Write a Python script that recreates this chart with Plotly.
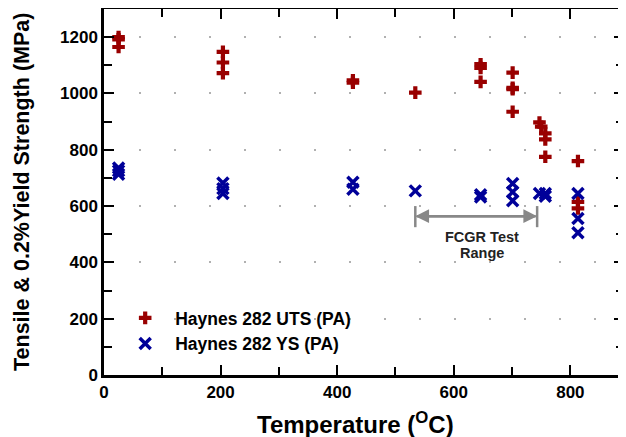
import plotly.graph_objects as go

# Haynes 282 UTS (PA)
uts_temp = [25, 25, 25, 204, 204, 204, 427, 427, 534, 646, 646, 646, 701, 701, 701, 701, 747, 750, 757, 757, 757, 813, 813, 813]
uts_val = [1200, 1192, 1165, 1148, 1110, 1072, 1047, 1038, 1003, 1104, 1091, 1041, 1074, 1020, 1015, 935, 897, 882, 858, 837, 775, 760, 615, 592]

# Haynes 282 YS (PA)
ys_temp = [25, 25, 25, 204, 204, 204, 427, 427, 534, 646, 646, 701, 701, 701, 747, 757, 757, 813, 813, 813]
ys_val = [735, 725, 713, 682, 662, 645, 685, 660, 654, 640, 632, 680, 650, 619, 645, 645, 635, 645, 556, 505]

x_ticks = [0, 200, 400, 600, 800]
y_ticks = [0, 200, 400, 600, 800, 1000, 1200]

fcgr_range = [534, 743]
fcgr_level = 564

FONT = "Liberation Sans"

fig = go.Figure()
fig.add_trace(go.Scatter(
    x=uts_temp, y=uts_val, mode="markers", name="Haynes 282 UTS (PA)",
    marker=dict(symbol="cross", size=10.5, color="#990000", line=dict(width=0)),
))
fig.add_trace(go.Scatter(
    x=ys_temp, y=ys_val, mode="markers", name="Haynes 282 YS (PA)",
    marker=dict(symbol="x-thin", size=11, color="#000099", line=dict(width=3.5, color="#000099")),
))

# FCGR test range arrow
fig.add_annotation(x=fcgr_range[0], y=fcgr_level, ax=fcgr_range[1], ay=fcgr_level,
                   xref="x", yref="y", axref="x", ayref="y", text="",
                   showarrow=True, arrowhead=2, arrowsize=1.1, arrowwidth=2.5, arrowcolor="#888888")
fig.add_annotation(x=fcgr_range[1], y=fcgr_level, ax=fcgr_range[0], ay=fcgr_level,
                   xref="x", yref="y", axref="x", ayref="y", text="",
                   showarrow=True, arrowhead=2, arrowsize=1.1, arrowwidth=2.5, arrowcolor="#888888")
for xv in fcgr_range:
    fig.add_shape(type="line", x0=xv, x1=xv, y0=525, y1=600, xref="x", yref="y",
                  line=dict(color="#888888", width=2.5))
fig.add_annotation(x=648, y=490, xref="x", yref="y",
                   text="<b>FCGR Test</b>", showarrow=False,
                   font=dict(family=FONT, size=14.5, color="#222222"))
fig.add_annotation(x=648, y=433, xref="x", yref="y",
                   text="<b>Range</b>", showarrow=False,
                   font=dict(family=FONT, size=14.5, color="#222222"))

# axis titles
fig.add_annotation(x=0.483, y=0, xref="paper", yref="paper", yshift=-48,
                   xanchor="center", yanchor="middle", showarrow=False,
                   text="<b>Temperature (<sup>O</sup>C)</b>",
                   font=dict(family=FONT, size=24, color="black"))
fig.add_annotation(x=0, y=0.5, xref="paper", yref="paper", xshift=-82,
                   xanchor="center", yanchor="middle", showarrow=False, textangle=-90,
                   text="<b>Tensile & 0.2%Yield Strength (MPa)</b>",
                   font=dict(family=FONT, size=21.5, color="black"))

axis_common = dict(
    showline=True, linecolor="black", linewidth=2.5, mirror="ticks",
    ticks="inside", ticklen=10, tickwidth=2, tickcolor="black",
    tickfont=dict(family=FONT, size=17, color="black", weight="bold"),
    zeroline=False, automargin=False,
)

fig.update_xaxes(
    range=[0, 892], tickvals=x_ticks, showgrid=False,
    minor=dict(dtick=100, tick0=0, ticks="inside", ticklen=8, tickwidth=2, tickcolor="black", showgrid=False),
    **axis_common,
)
fig.update_yaxes(
    range=[0, 1300], tickvals=y_ticks, showgrid=True, gridcolor="#b0b0b0", gridwidth=1.5,
    griddash="2px,33px",
    minor=dict(dtick=100, tick0=0, ticks="inside", ticklen=8, tickwidth=2, tickcolor="black", showgrid=False),
    **axis_common,
)

fig.update_layout(
    width=618, height=429,
    margin=dict(l=96, r=2, t=1, b=62),
    paper_bgcolor="white", plot_bgcolor="white",
    showlegend=True,
    legend=dict(x=0.0215, y=0.205, xanchor="left", yanchor="top", bgcolor="rgba(0,0,0,0)",
                font=dict(family=FONT, size=17.5, color="black", weight="bold"),
                itemwidth=50, tracegroupgap=2),
)

fig.write_html("out.html")
